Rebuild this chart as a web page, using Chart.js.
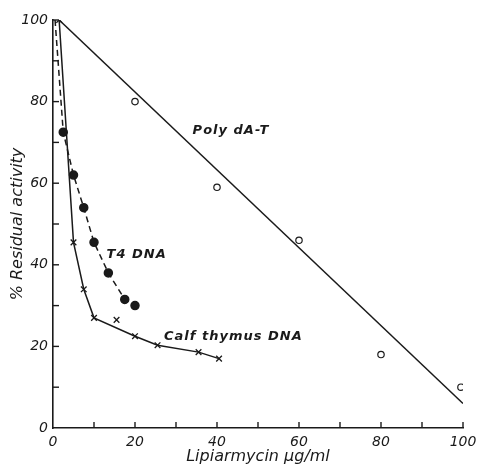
<!DOCTYPE html>
<html>
<head>
<meta charset="utf-8">
<script src="https://cdn.jsdelivr.net/npm/chart.js@4/dist/chart.umd.min.js"></script>
<style>
  html, body { margin: 0; background: #fff; }
  #wrap { width: 479px; height: 467px; }
</style>
</head>
<body>
<div id="wrap"><canvas id="myChart"></canvas></div>
<script>
// Lipiarmycin (ug/ml) vs % residual activity
const polyLineX = [1.5, 100];
const polyLineY = [100, 6];
const polyX = [20, 40, 60, 80, 99.5];
const polyY = [80, 59, 46, 18, 10];

const t4X = [0.5, 2.5, 5, 7.5, 10, 13.5, 17.5, 20];
const t4Y = [100, 72.5, 62, 54, 45.5, 38, 31.5, 30];

const calfX = [1.5, 5, 7.5, 10, 20, 25.5, 35.5, 40.5];
const calfY = [100, 45.5, 34, 27, 22.5, 20.3, 18.6, 17];
const calfExtraX = [15.5];
const calfExtraY = [26.5];

const curveNames = ["Poly dA-T", "T4 DNA", "Calf thymus DNA"];
const xTicks = [0, 20, 40, 60, 80, 100];
const yTicks = [0, 20, 40, 60, 80, 100];

const ink = "#1a1a1a";
const fontFam = '"DejaVu Sans", sans-serif';

const pts = (xs, ys) => xs.map((v, i) => ({ x: v, y: ys[i] }));

// inward tick marks + curve labels
const extras = {
  id: "extras",
  afterDatasetsDraw(chart) {
    const { ctx, scales: { x, y } } = chart;
    ctx.save();
    ctx.strokeStyle = ink;
    ctx.lineWidth = 1.4;
    for (let v = 10; v <= 100; v += 10) {
      const px = x.getPixelForValue(v);
      ctx.beginPath();
      ctx.moveTo(px, y.bottom);
      ctx.lineTo(px, y.bottom - 6);
      ctx.stroke();
      const py = y.getPixelForValue(v);
      ctx.beginPath();
      ctx.moveTo(x.left, py);
      ctx.lineTo(x.left + 6, py);
      ctx.stroke();
    }
    // where each curve name sits, in data units
    const at = [[43.4, 73], [20.4, 42.6], [44, 22.5]];
    ctx.fillStyle = ink;
    ctx.font = "italic bold 13px " + fontFam;
    ctx.letterSpacing = "1px";
    ctx.textAlign = "center";
    ctx.textBaseline = "middle";
    curveNames.forEach((name, i) => {
      ctx.fillText(name, x.getPixelForValue(at[i][0]), y.getPixelForValue(at[i][1]));
    });
    ctx.restore();
  },
};

const ctx = document.getElementById("myChart").getContext("2d");
new Chart(ctx, {
  type: "scatter",
  data: {
    datasets: [
      {
        label: curveNames[0],
        data: pts(polyLineX, polyLineY),
        showLine: true,
        borderColor: ink,
        borderWidth: 1.5,
        pointRadius: 0,
      },
      {
        label: curveNames[0] + " points",
        data: pts(polyX, polyY),
        showLine: false,
        pointStyle: "circle",
        pointRadius: 3.2,
        borderColor: ink,
        borderWidth: 1.2,
        backgroundColor: "#fff",
      },
      {
        label: curveNames[1],
        data: pts(t4X, t4Y),
        showLine: true,
        borderColor: ink,
        borderWidth: 1.5,
        borderDash: [6, 4],
        pointRadius: t4X.map((v, i) => (i === 0 ? 0 : 4)),
        pointBackgroundColor: ink,
        pointBorderColor: ink,
      },
      {
        label: curveNames[2],
        data: pts(calfX, calfY),
        showLine: true,
        borderColor: ink,
        borderWidth: 1.5,
        pointStyle: "crossRot",
        pointRadius: 4,
        pointBorderWidth: 1.3,
        pointBorderColor: ink,
      },
      {
        label: curveNames[2] + " extra",
        data: pts(calfExtraX, calfExtraY),
        showLine: false,
        pointStyle: "crossRot",
        pointRadius: 4,
        borderWidth: 1.3,
        borderColor: ink,
      },
    ],
  },
  options: {
    responsive: true,
    maintainAspectRatio: false,
    animation: false,
    layout: { padding: { top: 20, right: 16, left: 0, bottom: 0 } },
    plugins: {
      legend: { display: false },
      tooltip: { enabled: false },
    },
    scales: {
      x: {
        type: "linear",
        min: 0,
        max: 100,
        afterFit: (s) => {
          s.height = 39;
          s.paddingLeft = 0;
          s.paddingRight = 0;
        },
        border: { display: true, color: ink, width: 1.6 },
        grid: { display: false, drawTicks: false },
        ticks: {
          stepSize: 20,
          padding: 6,
          color: ink,
          maxRotation: 0,
          font: { family: fontFam, size: 14, style: "italic" },
          callback: (v) => (xTicks.includes(v) ? v : ""),
        },
        title: {
          display: true,
          text: "Lipiarmycin µg/ml",
          color: ink,
          padding: { top: 0, bottom: 1 },
          font: { family: fontFam, size: 16, style: "italic" },
        },
      },
      y: {
        type: "linear",
        min: 0,
        max: 100,
        afterFit: (s) => { s.width = 53; },
        border: { display: true, color: ink, width: 1.6 },
        grid: { display: false, drawTicks: false },
        ticks: {
          stepSize: 20,
          padding: 5,
          color: ink,
          font: { family: fontFam, size: 14, style: "italic" },
          callback: (v) => (yTicks.includes(v) ? v : ""),
        },
        title: {
          display: true,
          text: "% Residual activity",
          color: ink,
          padding: { top: 8, bottom: 0 },
          font: { family: fontFam, size: 16, style: "italic" },
        },
      },
    },
  },
  plugins: [extras],
});
</script>
</body>
</html>
